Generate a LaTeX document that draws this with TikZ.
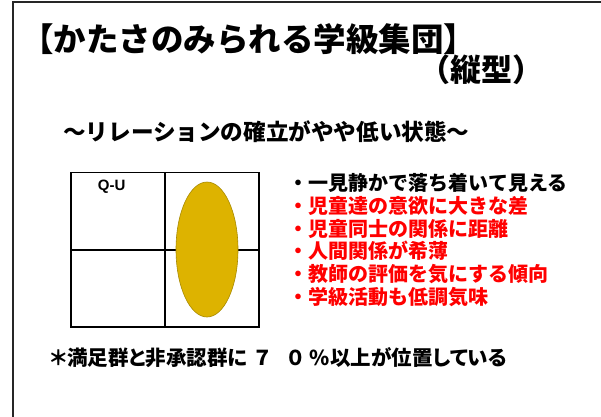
\documentclass[tikz,border=0pt]{standalone}
\usepackage{fontspec}
\usetikzlibrary{shapes.geometric}
\setmainfont{Noto Sans CJK JP}
\newfontfamily\jpp{Noto Sans CJK JP}[RawFeature=+palt]
\newfontfamily\latsans{Liberation Sans}
\definecolor{gold}{HTML}{DDB300}
\definecolor{goldline}{HTML}{A88A00}
\definecolor{redtext}{HTML}{FF0000}
\tikzset{
  txt/.style={inner sep=0pt, anchor=base west},
  gridline/.style={line width=1.6pt, black},
  bul/.style={txt, font=\fontsize{20}{24}\selectfont\bfseries},
}
\begin{document}
\begin{tikzpicture}[x=1pt,y=-1pt]
\useasboundingbox (0,0) rectangle (601,416);
\fill[white] (0,0) rectangle (601,416);
% slide frame
\draw[line width=2pt, black!85] (605,1.8) -- (12.8,1.8) -- (12.8,420);
% title
\node[txt, font=\fontsize{32.5}{38}\selectfont\bfseries] (title) at (21,51) {【かたさのみられる学級集団】};
\node[txt, font=\fontsize{31}{36}\selectfont\bfseries] (sub1) at (419,81) {（縦型）};
\node[txt, font=\fontsize{22.6}{28}\selectfont\bfseries] (sub2) at (63,140) {～リレーションの確立がやや低い状態～};
% Q-U grid
\coordinate (g1) at (71,172.6);
\coordinate (g2) at (259,327);
\draw[gridline] (g1) rectangle (g2);
\coordinate (vt) at (165,172.6);
\coordinate (vb) at (165,327);
\coordinate (hl) at (71,250);
\coordinate (hr) at (259,250);
\draw[gridline] (vt) -- (vb);
\draw[gridline] (hl) -- (hr);
\node[ellipse, fill=gold, draw=goldline, line width=0.6pt, minimum width=62pt, minimum height=135pt, inner sep=0pt] (ell) at (207,249.5) {};
\node[inner sep=0pt, font=\latsans\fontsize{15}{18}\selectfont\bfseries] (qu) at (111.7,187) {Q-U};
% bullet list
\node[bul] (b1) at (288.5,190.4) {・一見静かで落ち着いて見える};
\node[bul, text=redtext] (b2) at (288.5,213.2) {・児童達の意欲に大きな差};
\node[bul, text=redtext] (b3) at (288.5,236.0) {・児童同士の関係に距離};
\node[bul, text=redtext] (b4) at (288.5,258.8) {・人間関係が希薄};
\node[bul, text=redtext] (b5) at (288.5,281.6) {・教師の評価を気にする傾向};
\node[bul, text=redtext] (b6) at (288.5,304.4) {・学級活動も低調気味};
% footnote
\node[txt, font=\jpp\fontsize{20.5}{24}\selectfont\bfseries] (foot) at (50,365.5) {＊満足群と非承認群に\hspace{4pt}\makebox[22pt]{７}\hspace{11.5pt}\makebox[22pt]{０}\hspace{3pt}\%以上が位置している};
\end{tikzpicture}
\end{document}
